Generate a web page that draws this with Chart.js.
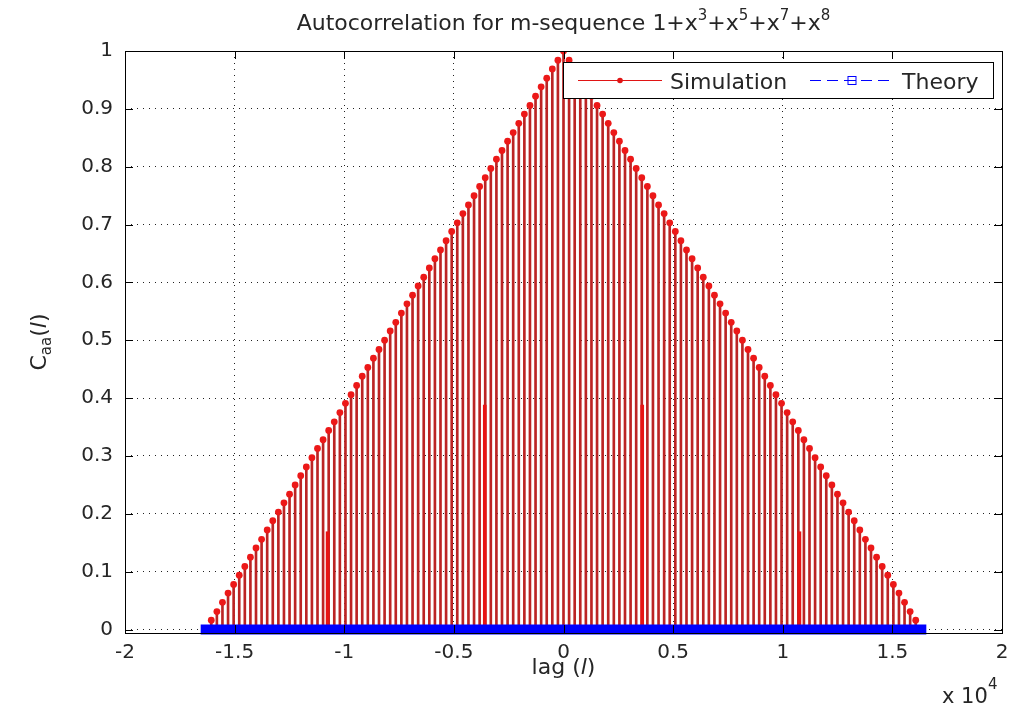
<!doctype html>
<html>
<head>
<title>Autocorrelation</title>
<script src="https://cdn.jsdelivr.net/npm/chart.js"></script>
<style>body{margin:0;background:#fff}</style>
</head>
<body>
<div style="width:1028px;height:707px"><canvas id="acf" width="1028" height="707"></canvas></div>
<script>
// lags are multiples of the m-sequence period
const lagStep = 255;
// simulated peaks, read from lag 0 outwards (plot is symmetric)
const peakHalf = [1, 0.984, 0.969, 0.953, 0.938, 0.922, 0.906, 0.891, 0.875, 0.859,
    0.844, 0.828, 0.813, 0.797, 0.781, 0.766, 0.75, 0.734, 0.719, 0.703,
    0.688, 0.672, 0.656, 0.641, 0.625, 0.609, 0.594, 0.578, 0.563, 0.547,
    0.531, 0.516, 0.5, 0.484, 0.469, 0.453, 0.438, 0.422, 0.406, 0.391,
    0.375, 0.359, 0.344, 0.328, 0.313, 0.297, 0.281, 0.266, 0.25, 0.234,
    0.219, 0.203, 0.188, 0.172, 0.156, 0.141, 0.125, 0.109, 0.094, 0.078,
    0.063, 0.047, 0.031, 0.016, 0];
// the few off-period lags with larger values
const spikeLags = [-10760, -3590, 3590, 10760];
const spikeValues = [0.169, 0.388, 0.388, 0.169];
const theoryValue = 0;
const xTicks = [-2, -1.5, -1, -0.5, 0, 0.5, 1, 1.5, 2];   // x 10^4
const xFactor = 10000;
const yTicks = [0, 0.1, 0.2, 0.3, 0.4, 0.5, 0.6, 0.7, 0.8, 0.9, 1];

const peaks = peakHalf.slice(1).reverse().concat(peakHalf);
const lags = peaks.map((p, i) => (i - (peakHalf.length - 1)) * lagStep);

const FONT = 'DejaVu Sans';
const TEXT = '#262626';

function richText(ctx, segs, x, y) {
    let w = 0;
    segs.forEach(s => { ctx.font = s.font; w += ctx.measureText(s.t).width; });
    let cx = x - w / 2;
    ctx.textAlign = 'left';
    ctx.textBaseline = 'alphabetic';
    segs.forEach(s => {
        ctx.font = s.font;
        ctx.fillText(s.t, cx, y + (s.dy || 0));
        cx += ctx.measureText(s.t).width;
    });
}

const decorations = {
    id: 'decorations',
    afterDraw(chart) {
        const ctx = chart.ctx;
        const a = chart.chartArea;
        const xs = chart.scales.x, ys = chart.scales.y;
        ctx.save();
        // axes box
        ctx.strokeStyle = '#000';
        ctx.lineWidth = 1;
        ctx.strokeRect(a.left + 0.5, a.top + 0.5, a.right - a.left, a.bottom - a.top);
        // inward tick marks
        ctx.beginPath();
        xs.ticks.forEach(t => {
            const px = Math.round(xs.getPixelForValue(t.value)) + 0.5;
            ctx.moveTo(px, a.bottom); ctx.lineTo(px, a.bottom - 8);
            ctx.moveTo(px, a.top); ctx.lineTo(px, a.top + 8);
        });
        ys.ticks.forEach(t => {
            const py = Math.round(ys.getPixelForValue(t.value)) + 0.5;
            ctx.moveTo(a.left, py); ctx.lineTo(a.left + 8, py);
            ctx.moveTo(a.right, py); ctx.lineTo(a.right - 8, py);
        });
        ctx.stroke();

        ctx.fillStyle = TEXT;
        const big = '22px ' + FONT, sup = '15px ' + FONT, it = 'italic 22px ' + FONT;
        // title
        richText(ctx, [
            { t: 'Autocorrelation for m-sequence 1+x', font: big },
            { t: '3', font: sup, dy: -10 },
            { t: '+x', font: big },
            { t: '5', font: sup, dy: -10 },
            { t: '+x', font: big },
            { t: '7', font: sup, dy: -10 },
            { t: '+x', font: big },
            { t: '8', font: sup, dy: -10 }
        ], (a.left + a.right) / 2, 30);
        // x label
        richText(ctx, [
            { t: 'lag (', font: big }, { t: 'l', font: it }, { t: ')', font: big }
        ], (a.left + a.right) / 2, 674);
        // y label
        ctx.save();
        ctx.translate(46, (a.top + a.bottom) / 2);
        ctx.rotate(-Math.PI / 2);
        richText(ctx, [
            { t: 'C', font: big }, { t: 'aa', font: sup, dy: 5 },
            { t: '(', font: big }, { t: 'l', font: it }, { t: ')', font: big }
        ], 0, 0);
        ctx.restore();
        // exponent of x axis
        ctx.font = '21px ' + FONT;
        ctx.textAlign = 'left';
        ctx.fillText('x 10', 942, 703);
        ctx.font = '15px ' + FONT;
        ctx.fillText('4', 988, 689);

        // legend
        const lx = 563.5, ly = 62.5, lw = 430, lh = 36, my = 80.5;
        ctx.fillStyle = '#fff';
        ctx.fillRect(lx, ly, lw, lh);
        ctx.strokeStyle = '#000';
        ctx.strokeRect(lx, ly, lw, lh);
        ctx.strokeStyle = '#e01414';
        ctx.beginPath(); ctx.moveTo(578, my); ctx.lineTo(662, my); ctx.stroke();
        ctx.fillStyle = '#e01414';
        ctx.beginPath(); ctx.arc(620, my, 2.8, 0, Math.PI * 2); ctx.fill();
        ctx.strokeStyle = '#0000ff';
        ctx.setLineDash([11, 6]);
        ctx.beginPath(); ctx.moveTo(810, my); ctx.lineTo(892, my); ctx.stroke();
        ctx.setLineDash([]);
        ctx.fillStyle = '#fff';
        ctx.fillRect(848, my - 4, 8, 8);
        ctx.strokeRect(848, my - 4, 8, 8);
        ctx.beginPath(); ctx.moveTo(848, my); ctx.lineTo(856, my); ctx.stroke();
        ctx.fillStyle = TEXT;
        ctx.font = big;
        ctx.textBaseline = 'alphabetic';
        ctx.fillText('Simulation', 670, 89);
        ctx.fillText('Theory', 902, 89);
        ctx.restore();
    }
};

new Chart(document.getElementById('acf').getContext('2d'), {
    type: 'bar',
    data: {
        datasets: [{
            type: 'bar',
            label: 'Simulation stems',
            data: lags.map((x, i) => ({ x: x, y: peaks[i] })),
            backgroundColor: 'rgb(188,36,36)',
            barThickness: 2,
            grouped: false,
            order: 4
        }, {
            type: 'bar',
            label: 'Simulation spikes',
            data: spikeLags.map((x, i) => ({ x: x, y: spikeValues[i] })),
            backgroundColor: '#e81414',
            barThickness: 3,
            grouped: false,
            order: 3
        }, {
            type: 'line',
            label: 'Simulation',
            data: lags.map((x, i) => ({ x: x, y: peaks[i] })),
            showLine: false,
            pointRadius: 3.4,
            pointBorderWidth: 0,
            pointBackgroundColor: '#ec1818',
            order: 2
        }, {
            type: 'line',
            label: 'Theory',
            data: lags.map(x => ({ x: x, y: theoryValue })),
            borderColor: '#0000ff',
            borderWidth: 10,
            borderCapStyle: 'square',
            pointRadius: 0,
            clip: false,
            order: 1
        }]
    },
    options: {
        responsive: false,
        animation: false,
        devicePixelRatio: 1,
        layout: { padding: { top: 51, right: 26, left: 0, bottom: 0 } },
        plugins: { legend: { display: false }, tooltip: { enabled: false } },
        scales: {
            x: {
                type: 'linear',
                min: xTicks[0] * xFactor,
                max: xTicks[xTicks.length - 1] * xFactor,
                offset: false,
                afterBuildTicks: s => { s.ticks = xTicks.map(v => ({ value: v * xFactor })); },
                ticks: {
                    callback: v => String(v / xFactor),
                    color: TEXT,
                    font: { family: FONT, size: 20 },
                    padding: 8,
                    maxRotation: 0,
                    autoSkip: false
                },
                grid: { color: '#222', lineWidth: 1, drawTicks: false, offset: false },
                border: { display: false, dash: [1, 5] },
                afterFit: s => { s.height = 74; }
            },
            y: {
                min: -0.006,
                max: 1,
                afterBuildTicks: s => { s.ticks = yTicks.map(v => ({ value: v })); },
                ticks: {
                    callback: v => String(Math.round(v * 10) / 10),
                    color: TEXT,
                    font: { family: FONT, size: 20 },
                    padding: 12
                },
                grid: { color: '#222', lineWidth: 1, drawTicks: false },
                border: { display: false, dash: [1, 5] },
                afterFit: s => { s.width = 125; }
            }
        }
    },
    plugins: [decorations]
});
</script>
</body>
</html>
